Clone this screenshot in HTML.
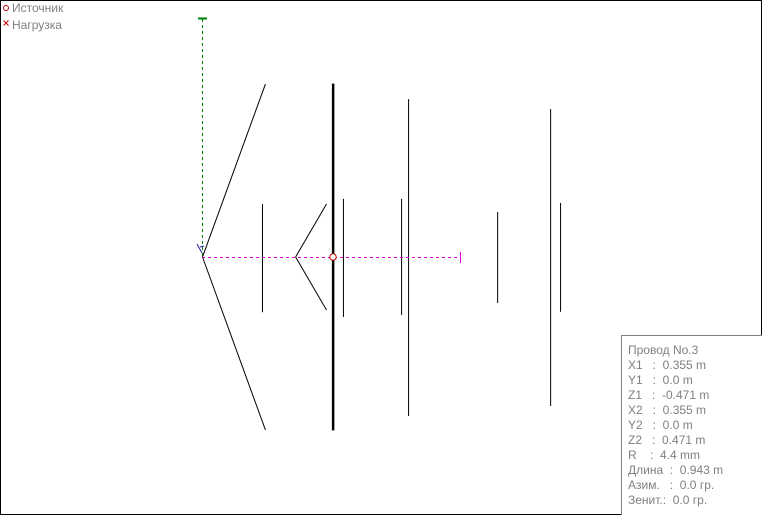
<!DOCTYPE html>
<html><head><meta charset="utf-8"><style>
body{margin:0;background:#fff;}
#wrap{position:relative;width:762px;height:515px;overflow:hidden;}
.t{font-family:"Liberation Sans",sans-serif;font-size:12px;fill:#808080;}
</style></head><body>
<div id="wrap">
<svg id="s" width="762" height="515" xmlns="http://www.w3.org/2000/svg">
<defs><pattern id="mdash" x="202" y="0" width="6" height="515" patternUnits="userSpaceOnUse"><rect x="0" y="0" width="3" height="515" fill="#e000e0"/></pattern></defs>
<rect x="0.5" y="0.5" width="761" height="514" fill="#fff" stroke="#000"/>
<circle cx="6" cy="8" r="2.5" fill="none" stroke="#c00000"/>
<text x="12" y="12" class="t">Источник</text>
<path d="M3.5,20.5 L8.5,25.5 M8.5,20.5 L3.5,25.5" stroke="#c00000"/>
<text x="12" y="29" class="t">Нагрузка</text>
<line x1="202.5" y1="19" x2="202.5" y2="257" stroke="#008000" stroke-dasharray="3,3"/>
<line x1="198" y1="18.5" x2="207" y2="18.5" stroke="#008000" stroke-width="2"/>
<g id="wires"></g>
<rect x="202" y="257" width="257" height="1" fill="url(#mdash)"/>
<rect x="460" y="252" width="1" height="11" fill="#e000e0"/>
<path d="M197,244 L202,253 M200,247 L204,246" stroke="#2020a0" fill="none"/>
<circle cx="333" cy="257" r="3.2" fill="#fff" stroke="#c00000"/>
<rect x="621.5" y="335.5" width="141" height="181" fill="#fff" stroke="#808080"/>
<g class="t">
<text x="628" y="354">Провод No.3</text>
<text x="628" y="369">X1&#160;&#160;&#160;:&#160;&#160;0.355 m</text>
<text x="628" y="384">Y1&#160;&#160;&#160;:&#160;&#160;0.0 m</text>
<text x="628" y="399">Z1&#160;&#160;&#160;:&#160;&#160;-0.471 m</text>
<text x="628" y="414">X2&#160;&#160;&#160;:&#160;&#160;0.355 m</text>
<text x="628" y="429">Y2&#160;&#160;&#160;:&#160;&#160;0.0 m</text>
<text x="628" y="444">Z2&#160;&#160;&#160;:&#160;&#160;0.471 m</text>
<text x="628" y="459">R&#160;&#160;&#160;&#160;:&#160;&#160;4.4 mm</text>
<text x="628" y="474">Длина&#160;&#160;:&#160;&#160;0.943 m</text>
<text x="628" y="489">Азим.&#160;&#160;&#160;:&#160;&#160;0.0 гр.</text>
<text x="628" y="504">Зенит.:&#160;&#160;0.0 гр.</text>
</g>
</svg>
</div>
<script>
const wireX1=[0,0,0.163,0.253,0.253,0.355,0.383,0.541,0.560,0.802,0.946,0.973];
const wireZ1=[0,0,0.144,0,0,0.471,0.158,0.158,0.429,0.122,0.402,0.147];
const wireX2=[0.171,0.171,0.163,0.337,0.337,0.355,0.383,0.541,0.560,0.802,0.946,0.973];
const wireZ2=[0.470,-0.470,-0.150,0.144,-0.144,-0.471,-0.163,-0.158,-0.432,-0.125,-0.405,-0.149];
const wireW=[1,1,1,1,1,2.5,1,1,1,1,1,1];
const scale=368, ox=202, oz=257;
const sx=v=>ox+v*scale, sz=v=>oz-v*scale;
const g=document.getElementById('wires');
for(let i=0;i<wireX1.length;i++){
  const l=document.createElementNS('http://www.w3.org/2000/svg','line');
  l.setAttribute('x1',sx(wireX1[i])+0.5);l.setAttribute('y1',sz(wireZ1[i]));
  l.setAttribute('x2',sx(wireX2[i])+0.5);l.setAttribute('y2',sz(wireZ2[i]));
  l.setAttribute('stroke','#000');l.setAttribute('stroke-width',wireW[i]);
  
  
  g.appendChild(l);
}
</script>
</body></html>
